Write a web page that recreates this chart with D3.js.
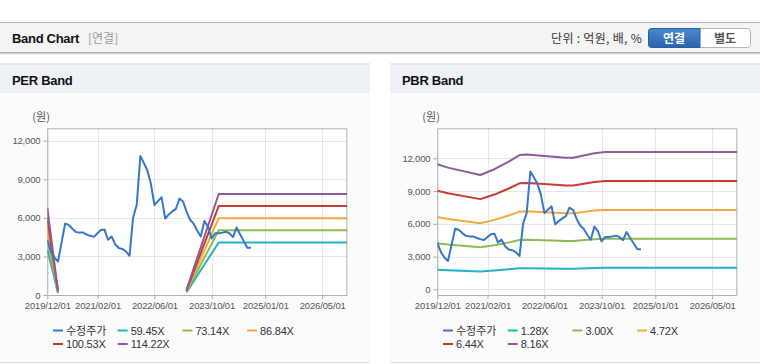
<!DOCTYPE html>
<html><head><meta charset="utf-8">
<script src="https://cdn.jsdelivr.net/npm/d3@7"></script>
<style>
html,body{margin:0;padding:0;background:#fff;}
svg{display:block;font-family:"Liberation Sans",Arial,sans-serif;}
.kr{font-family:"Noto Sans CJK KR","Liberation Sans",sans-serif;}
</style></head>
<body><svg id="c" width="760" height="364"></svg>
<script>
// ---------- data ----------
const priceDates = ["2019-12","2020-01","2020-02","2020-03","2020-04","2020-05","2020-06","2020-07","2020-08","2020-09","2020-10","2020-11",
"2020-12","2021-01","2021-02","2021-03","2021-04","2021-05","2021-06","2021-07","2021-08","2021-09","2021-10","2021-11",
"2021-12","2022-01","2022-02","2022-03","2022-04","2022-05","2022-06","2022-07","2022-08","2022-09","2022-10","2022-11",
"2022-12","2023-01","2023-02","2023-03","2023-04","2023-05","2023-06","2023-07","2023-08","2023-09","2023-10","2023-11",
"2023-12","2024-01","2024-02","2024-03","2024-04","2024-05","2024-06","2024-07","2024-08","2024-09"];
const priceValues = [4250,3400,2900,2600,4100,5550,5450,5150,4900,4850,4850,4700,
4600,4520,4800,5050,5100,4300,4550,3950,3650,3580,3400,3050,
6000,7000,10800,10300,9700,8700,7000,7300,7600,5950,6250,6500,
6700,7500,7250,6500,5850,5550,5000,4550,5750,5300,4400,4800,
4800,4850,4920,4800,4500,5250,4700,4200,3680,3680];

const perBandDates = ["2019-12","2020-03","2020-06","2023-03","2023-12","2026-12"];
const per5945  = [3533,160,null,204,4087,4087];
const per7314  = [4347,200,null,250,5028,5028];
const per8684  = [5160,235,null,296,5970,5970];
const per10053 = [5975,275,null,343,6911,6911];
const per11422 = [6790,310,null,390,7853,7853];

const pbrBandDates = ["2019-12","2020-03","2020-12","2021-04","2021-08","2021-11","2022-01","2022-06","2022-12","2023-02","2023-08","2023-11","2026-12"];
const pbr128 = [1796,1749,1642,1725,1835,1929,1937,1917,1890,1892,1956,1973,1973];
const pbr300 = [4209,4099,3849,4044,4301,4522,4540,4493,4430,4434,4585,4625,4625];
const pbr472 = [6623,6449,6056,6363,6767,7115,7143,7068,6970,6976,7213,7277,7277];
const pbr644 = [9036,8800,8263,8681,9234,9707,9747,9644,9510,9518,9841,9928,9928];
const pbr816 = [11450,11150,10470,11000,11700,12300,12350,12220,12050,12060,12470,12580,12580];

const xTickLabels = ["2019/12/01","2021/02/01","2022/06/01","2023/10/01","2025/01/01","2026/05/01"];
const yTicks = [0,3000,6000,9000,12000];
const perLegend = ["수정주가","59.45X","73.14X","86.84X","100.53X","114.22X"];
const pbrLegend = ["수정주가","1.28X","3.00X","4.72X","6.44X","8.16X"];
const seriesColors = ["#3577c9","#22b3c6","#8cbb4f","#f0aa40","#cc3a30","#8f5a9c"];

// ---------- drawing ----------
const svg = d3.select("#c");
const pm = d3.timeParse("%Y-%m");
const pd = d3.timeParse("%Y/%m/%d");

// header
svg.append("rect").attr("x",0).attr("y",22).attr("width",760).attr("height",31).attr("fill","#f4f4f4");
svg.append("line").attr("x1",0).attr("x2",760).attr("y1",22.5).attr("y2",22.5).attr("stroke","#b8b8b8");
svg.append("line").attr("x1",0).attr("x2",760).attr("y1",52.5).attr("y2",52.5).attr("stroke","#a8a8a8");
svg.append("line").attr("x1",0).attr("x2",760).attr("y1",53.5).attr("y2",53.5).attr("stroke","#d4d4d4");
svg.append("line").attr("x1",0).attr("x2",760).attr("y1",54.5).attr("y2",54.5).attr("stroke","#ececec");
svg.append("text").attr("x",12).attr("y",43).attr("font-size",13).attr("font-weight","bold").attr("letter-spacing","-0.3")
  .attr("fill","#111").text("Band Chart");
svg.append("text").attr("class","kr").attr("x",88).attr("y",43).attr("font-size",12).attr("fill","#999").text("[연결]");
svg.append("text").attr("class","kr").attr("x",642).attr("y",43).attr("font-size",12).attr("letter-spacing","0.3").attr("text-anchor","end").attr("fill","#333").text("단위 : 억원, 배, %");

const defs = svg.append("defs");
const g = defs.append("linearGradient").attr("id","btn").attr("x1",0).attr("x2",0).attr("y1",0).attr("y2",1);
g.append("stop").attr("offset","0").attr("stop-color","#4a88d0");
g.append("stop").attr("offset","1").attr("stop-color","#2b64ad");
svg.append("rect").attr("x",648.5).attr("y",28.5).attr("width",102).attr("height",19).attr("rx",3).attr("fill","#fff").attr("stroke","#b5b5b5");
svg.append("path").attr("d","M651.5,28.5 H700 V47.5 H651.5 Q648.5,47.5 648.5,44.5 V31.5 Q648.5,28.5 651.5,28.5 Z").attr("fill","url(#btn)").attr("stroke","#2a5f9f");
svg.append("text").attr("class","kr").attr("x",674).attr("y",42.5).attr("font-size",12).attr("font-weight","bold").attr("text-anchor","middle").attr("fill","#fff").text("연결");
svg.append("text").attr("class","kr").attr("x",725).attr("y",42.5).attr("font-size",12).attr("font-weight","bold").attr("text-anchor","middle").attr("fill","#555").text("별도");

function panel(opt){
  const P = svg.append("g");
  P.append("rect").attr("x",opt.px).attr("y",64).attr("width",370).attr("height",29).attr("fill","#eef2f7");
  P.append("line").attr("x1",opt.px).attr("x2",opt.px+370).attr("y1",64).attr("y2",64).attr("stroke","#d4d4d4");
  P.append("rect").attr("x",opt.px).attr("y",93).attr("width",370).attr("height",269).attr("fill","#fbfbfb");
  P.append("line").attr("x1",opt.px).attr("x2",opt.px+370).attr("y1",362.5).attr("y2",362.5).attr("stroke","#dcdcdc");
  P.append("text").attr("x",opt.px+12).attr("y",85).attr("font-size",13).attr("font-weight","bold").attr("letter-spacing","-0.3")
    .attr("fill","#111").text(opt.title);

  const L = opt.left, R = opt.left+300, T = 128.3, B = 295;
  const x = d3.scaleTime().domain([pm("2019-12"), pm("2026-12")]).range([L,R]);
  const y = d3.scaleLinear().domain(opt.ydom).range([B,T]);

  P.append("rect").attr("x",L).attr("y",T).attr("width",R-L).attr("height",B-T).attr("fill","#fff");
  // grid
  const xt = xTickLabels.map(s=>pd(s));
  P.append("g").selectAll("line").data(xt).join("line")
    .attr("x1",d=>Math.round(x(d))+0.5).attr("x2",d=>Math.round(x(d))+0.5).attr("y1",T).attr("y2",B).attr("stroke","#e6e6e6");
  P.append("g").selectAll("line").data(yTicks).join("line")
    .attr("x1",L).attr("x2",R).attr("y1",d=>Math.round(y(d))+0.5).attr("y2",d=>Math.round(y(d))+0.5).attr("stroke","#e6e6e6");

  // axes
  const ya = d3.axisLeft(y).tickValues(yTicks).tickSize(4).tickPadding(3).tickFormat(d3.format(","));
  const yg = P.append("g").attr("transform",`translate(${L},0)`).call(ya);
  yg.select(".domain").remove();
  yg.selectAll("line").attr("stroke","#aaa");
  yg.selectAll("text").attr("font-size",9.5).attr("fill","#555").attr("letter-spacing","-0.2").attr("font-family","Liberation Sans, Arial");
  const xa = d3.axisBottom(x).tickValues(xt).tickSize(4).tickPadding(3).tickFormat(d3.timeFormat("%Y/%m/%d"));
  const xg = P.append("g").attr("transform",`translate(0,${B})`).call(xa);
  xg.select(".domain").remove();
  xg.selectAll("line").attr("stroke","#aaa");
  xg.selectAll("text").attr("font-size",9.5).attr("fill","#555").attr("letter-spacing","-0.15").attr("font-family","Liberation Sans, Arial");

  P.append("rect").attr("x",L+0.5).attr("y",T+0.5).attr("width",R-L-1).attr("height",B-T).attr("fill","none").attr("stroke","#b0b0b0");
  P.append("text").attr("class","kr").attr("x",L-15).attr("y",121).attr("font-size",11).attr("fill","#555").text("(원)");

  const clipId = "clip"+opt.px;
  defs.append("clipPath").attr("id",clipId).append("rect").attr("x",L).attr("y",T).attr("width",R-L).attr("height",B-T);
  const lines = P.append("g").attr("clip-path",`url(#${clipId})`);
  const line = d3.line().defined(d=>d.v!=null).x(d=>x(d.d)).y(d=>y(d.v));
  opt.bands.forEach((vals,i)=>{
    const data = opt.bandDates.map((s,j)=>({d:pm(s), v:vals[j]}));
    lines.append("path").datum(data).attr("d",line).attr("fill","none")
      .attr("stroke",seriesColors[i+1]).attr("stroke-width",2).attr("stroke-linejoin","round");
  });
  const pdata = priceDates.map((s,j)=>({d:pm(s), v:priceValues[j]}));
  lines.append("path").datum(pdata).attr("d",line).attr("fill","none")
    .attr("stroke",seriesColors[0]).attr("stroke-width",2).attr("stroke-linejoin","round");

  // legend
  const lx = opt.left + 5.7;
  opt.legend.forEach((name,i)=>{
    const col = i<4 ? i : i-4;
    const row = i<4 ? 0 : 1;
    const gx = lx + col*64.7, gy = row ? 344 : 330.5;
    P.append("line").attr("x1",gx).attr("x2",gx+10).attr("y1",gy).attr("y2",gy)
      .attr("stroke",seriesColors[i]).attr("stroke-width",2);
    P.append("text").attr("class", i===0?"kr":null).attr("x",gx+13).attr("y",gy+4).attr("font-size",11)
      .attr("letter-spacing", i===0?"0":"-0.2").attr("fill","#333").text(name);
  });
}

panel({px:0, left:47.3, title:"PER Band", ydom:[0,12960], bandDates:perBandDates,
  bands:[per5945,per7314,per8684,per10053,per11422], legend:perLegend});
panel({px:390, left:437.3, title:"PBR Band", ydom:[-520,14750], bandDates:pbrBandDates,
  bands:[pbr128,pbr300,pbr472,pbr644,pbr816], legend:pbrLegend});
</script></body></html>
